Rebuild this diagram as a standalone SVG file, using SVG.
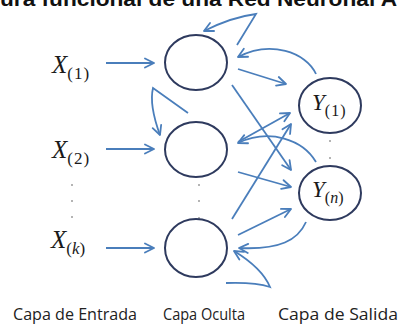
<svg xmlns="http://www.w3.org/2000/svg" width="399" height="325" viewBox="0 0 399 325">
<style>
.node{fill:none;stroke:#2e3a5e;stroke-width:2}
.c{fill:none;stroke:#4a7ebb;stroke-width:1.8}
.m{font-family:"Liberation Serif","DejaVu Serif",serif;fill:#1a1a1a}
.big{font-style:italic}
.lbl{font-family:"Open Sans","Liberation Sans",sans-serif;font-size:17px;fill:#222}
.dot{fill:#555}
</style>
<defs>
<marker id="ah" markerUnits="userSpaceOnUse" markerWidth="12" markerHeight="12" viewBox="0 0 12 12" refX="10.5" refY="6" orient="auto">
<path d="M1.5,1.5 L10.5,6 L1.5,10.5" fill="none" stroke="#4a7ebb" stroke-width="1.8" stroke-linecap="round" stroke-linejoin="round"/>
</marker>
</defs>
<rect width="399" height="325" fill="#ffffff"/>
<text x="0" y="6" font-family="Liberation Sans, Arial, sans-serif" font-size="21" font-weight="bold" fill="#111" textLength="397" lengthAdjust="spacingAndGlyphs">ura funcional de una Red Neuronal A</text>

<g id="connectors">
<path class="c" marker-end="url(#ah)" d="M106,63 L154,63"/>
<path class="c" marker-end="url(#ah)" d="M106,149 L154,149"/>
<path class="c" marker-end="url(#ah)" d="M106,248 L154,248"/>
<path class="c" marker-end="url(#ah)" d="M237,45 L256,14 Q232,17 204,31"/>
<path class="c" marker-end="url(#ah)" d="M316,74 C306,52 270,40 238,57"/>
<path class="c" marker-end="url(#ah)" d="M238,69 L286,84"/>
<path class="c" marker-end="url(#ah)" d="M232,85 L291,170"/>
<path class="c" marker-end="url(#ah)" d="M238,142 L290,113"/>
<path class="c" marker-end="url(#ah)" d="M316,162 C303,140 270,128 238,143"/>
<path class="c" marker-end="url(#ah)" d="M232,219 L291,124"/>
<path class="c" marker-end="url(#ah)" d="M238,172 L291,187"/>
<path class="c" marker-end="url(#ah)" d="M238,235 L291,209"/>
<path class="c" marker-end="url(#ah)" d="M306,222 C298,240 280,250 239,248"/>
<path class="c" marker-end="url(#ah)" d="M226,283 Q255,282 270,287 Q262,268 234,251"/>
<path class="c" marker-end="url(#ah)" d="M188,113 L153,88 Q149,105 160,135"/>
</g>

<g id="in1">
<text class="m" x="52" y="73"><tspan class="big" font-size="25">X</tspan><tspan font-size="17" dy="6" letter-spacing="1">(1)</tspan></text>
</g>
<g id="in2">
<text class="m" x="52" y="158"><tspan class="big" font-size="25">X</tspan><tspan font-size="17" dy="6" letter-spacing="1">(2)</tspan></text>
</g>
<g id="in_dots">
<circle class="dot" cx="72" cy="185" r="0.8"/>
<circle class="dot" cx="72" cy="201" r="0.8"/>
<circle class="dot" cx="72" cy="217" r="0.8"/>
</g>
<g id="ink">
<text class="m" x="51" y="248"><tspan class="big" font-size="25">X</tspan><tspan font-size="17" dy="6">(<tspan font-style="italic">k</tspan>)</tspan></text>
</g>

<g id="h1"><ellipse class="node" cx="196" cy="62.5" rx="31" ry="27.5"/></g>
<g id="h2"><ellipse class="node" cx="196" cy="149.5" rx="31" ry="27.5"/></g>
<g id="h_dots">
<circle class="dot" cx="199" cy="185" r="0.8"/>
<circle class="dot" cx="199" cy="201" r="0.8"/>
<circle class="dot" cx="199" cy="218" r="0.8"/>
</g>
<g id="h3"><ellipse class="node" cx="196" cy="248" rx="31" ry="29"/></g>

<g id="y1">
<ellipse class="node" cx="330" cy="105.5" rx="31" ry="27.5"/>
<text class="m" x="312" y="110"><tspan class="big" font-size="23">Y</tspan><tspan font-size="16" dy="6" letter-spacing="1">(1)</tspan></text>
</g>
<g id="y_dots">
<circle class="dot" cx="330" cy="141" r="0.8"/>
<circle class="dot" cx="330" cy="158" r="0.8"/>
</g>
<g id="yn">
<ellipse class="node" cx="330" cy="193" rx="31" ry="27"/>
<text class="m" x="312" y="197"><tspan class="big" font-size="23">Y</tspan><tspan font-size="16" dy="6">(<tspan font-style="italic">n</tspan>)</tspan></text>
</g>

<g id="labels">
<text class="lbl" x="13" y="320" textLength="124" lengthAdjust="spacingAndGlyphs">Capa de Entrada</text>
<text class="lbl" x="163" y="320" textLength="82" lengthAdjust="spacingAndGlyphs">Capa Oculta</text>
<text class="lbl" x="278" y="320" textLength="120" lengthAdjust="spacingAndGlyphs">Capa de Salida</text>
</g>
</svg>
